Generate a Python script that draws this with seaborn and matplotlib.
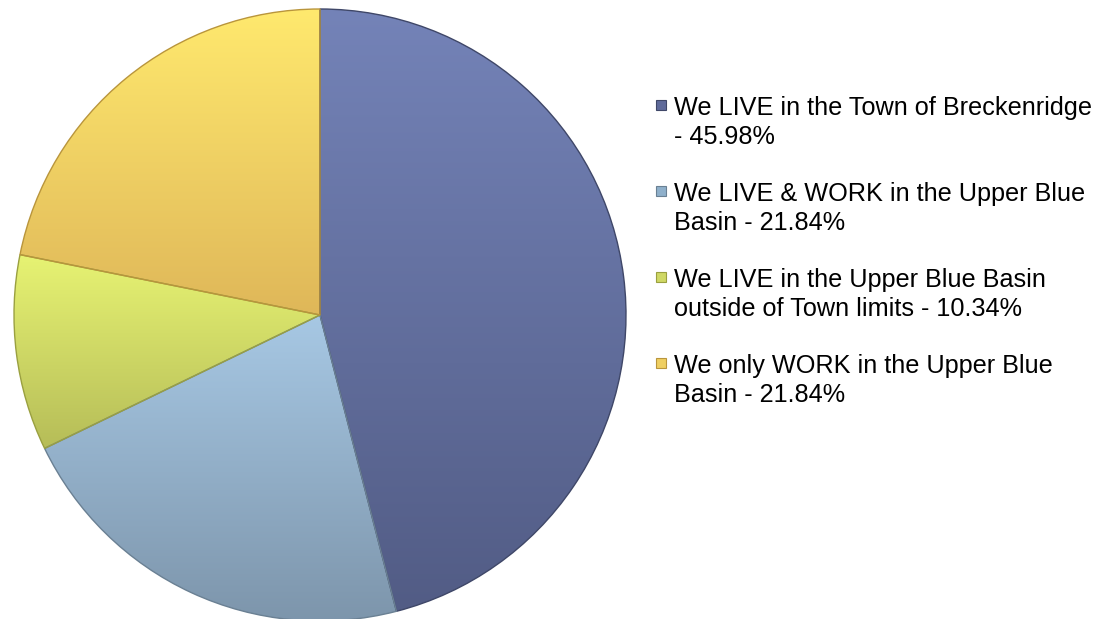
import numpy as np
import matplotlib
matplotlib.use("Agg")
import matplotlib.pyplot as plt
from matplotlib.colors import LinearSegmentedColormap
from matplotlib.patches import Rectangle
import seaborn as sns

# Survey shares: where respondents live and work
categories = [
    "We LIVE in the Town of Breckenridge",
    "We LIVE & WORK in the Upper Blue Basin",
    "We LIVE in the Upper Blue Basin outside of Town limits",
    "We only WORK in the Upper Blue Basin",
]
shares = [45.98, 21.84, 10.34, 21.84]
legend_lines = [
    ["We LIVE in the Town of Breckenridge", "- 45.98%"],
    ["We LIVE & WORK in the Upper Blue", "Basin - 21.84%"],
    ["We LIVE in the Upper Blue Basin", "outside of Town limits - 10.34%"],
    ["We only WORK in the Upper Blue", "Basin - 21.84%"],
]

# light (top) and dark (bottom) shade for each slice's vertical gradient
top_colors = ["#7483b8", "#a7c8e4", "#e7f373", "#ffe96e"]
bottom_colors = ["#525c85", "#7c94aa", "#b6bd58", "#dfb759"]
edge_colors = ["#3f4768", "#6a8093", "#9aa040", "#b9953c"]
marker_colors = ["#5f6a9a", "#8fb0cb", "#cfd865", "#efcf62"]

sns.set_theme(style="white")
plt.rcParams["font.family"] = ["Liberation Sans", "DejaVu Sans"]

W, H = 1116, 619
fig = plt.figure(figsize=(W / 100, H / 100), dpi=100)
fig.patch.set_facecolor("white")

cx, cy, r = 320, 315, 306
ax = fig.add_axes([(cx - r) / W, (H - cy - r) / H, 2 * r / W, 2 * r / H])
ax.set_xlim(-1, 1)
ax.set_ylim(-1, 1)
ax.set_aspect("equal")
ax.axis("off")

wedges, _ = ax.pie(shares, startangle=90, counterclock=False, radius=1,
                   colors=top_colors,
                   wedgeprops=dict(linewidth=1.0))

grad = np.linspace(0, 1, 256).reshape(-1, 1)
for w, c0, c1, ec in zip(wedges, top_colors, bottom_colors, edge_colors):
    w.set_facecolor("none")
    w.set_edgecolor(ec)
    w.set_zorder(3)
    verts = w.get_path().vertices
    x0, x1 = verts[:, 0].min(), verts[:, 0].max()
    y0, y1 = verts[:, 1].min(), verts[:, 1].max()
    cmap = LinearSegmentedColormap.from_list("g", [c1, c0])
    im = ax.imshow(grad, cmap=cmap, extent=[x0, x1, y0, y1], origin="lower",
                   aspect="auto", zorder=2, interpolation="bilinear")
    im.set_clip_path(w)

ax.set_xlim(-1, 1)
ax.set_ylim(-1, 1)

# legend drawn as square markers with two-line labels
fs = 18.2
x_marker, x_text = 656, 674
first_baseline = 115
line_gap = 29
entry_gap = 86
for i, lines in enumerate(legend_lines):
    base = first_baseline + i * entry_gap
    fig.patches.append(Rectangle((x_marker / W, (H - base + 5) / H), 10 / W, 10 / H,
                                 transform=fig.transFigure, facecolor=marker_colors[i],
                                 edgecolor=edge_colors[i], linewidth=0.8))
    for j, line in enumerate(lines):
        fig.text(x_text / W, (H - base - j * line_gap) / H, line, fontsize=fs,
                 color="black", ha="left", va="baseline")

fig.savefig("out.png", dpi=100, facecolor="white")
